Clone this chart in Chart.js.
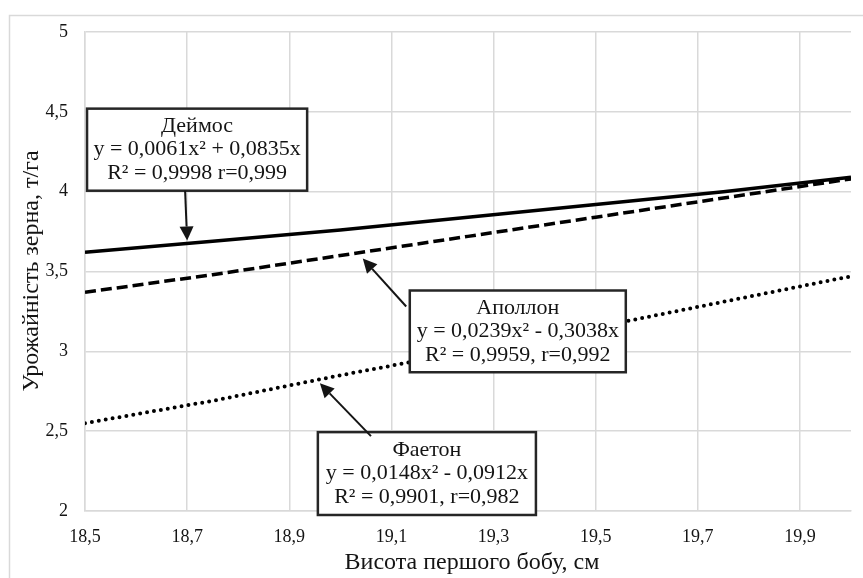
<!DOCTYPE html>
<html>
<head>
<meta charset="utf-8">
<script src="https://cdn.jsdelivr.net/npm/chart.js@4"></script>
<style>
  html, body { margin: 0; padding: 0; background: #fff; }
  #wrap { width: 863px; height: 578px; position: relative; }
</style>
</head>
<body>
<div id="wrap"><canvas id="chart" width="863" height="578"></canvas></div>
<script>
// values
const heights = [18.5, 18.75, 19.0, 19.25, 19.5, 19.75, 20.0];
const deimos  = [3.62, 3.69, 3.76, 3.84, 3.92, 4.00, 4.09];
const apollon = [3.37, 3.48, 3.60, 3.72, 3.84, 3.96, 4.08];
const faeton  = [2.55, 2.69, 2.85, 3.00, 3.15, 3.31, 3.47];
const xTicks = [18.5, 18.7, 18.9, 19.1, 19.3, 19.5, 19.7, 19.9];
const yTicks = [2, 2.5, 3, 3.5, 4, 4.5, 5];

const FONT = "'Liberation Serif', 'Times New Roman', serif";
const INK = '#141414';

// callout boxes, in data units
const callouts = [
    { lines: ['Деймос', 'y = 0,0061x² + 0,0835x', 'R² = 0,9998 r=0,999'],
      box: [18.504, 4.52, 18.935, 4.006], arrow: [18.696, 4.006, 18.700, 3.694] },
    { lines: ['Аполлон', 'y = 0,0239x² - 0,3038x', 'R² = 0,9959, r=0,992'],
      box: [19.136, 3.381, 19.559, 2.869], arrow: [19.129, 3.281, 19.044, 3.581] },
    { lines: ['Фаетон', 'y = 0,0148x² - 0,0912x', 'R² = 0,9901, r=0,982'],
      box: [18.956, 2.494, 19.383, 1.975], arrow: [19.060, 2.469, 18.960, 2.800] }
];

const fmt = v => String(Math.round(v * 10) / 10).replace('.', ',');
const pts = arr => arr.map((y, i) => ({ x: heights[i], y: y }));

const frame = {
    id: 'frame',
    beforeDraw(chart) {
        const ctx = chart.ctx;
        ctx.save();
        ctx.fillStyle = '#fff';
        ctx.fillRect(0, 0, chart.width, chart.height);
        ctx.strokeStyle = '#d9d9d9';
        ctx.lineWidth = 1.5;
        ctx.strokeRect(9.5, 15.5, 900, 600);
        ctx.restore();
    },
    afterDraw(chart) {
        const ctx = chart.ctx;
        const xs = chart.scales.x, ys = chart.scales.y;
        ctx.save();
        // axis titles
        ctx.fillStyle = INK;
        ctx.font = '24px ' + FONT;
        ctx.textAlign = 'center';
        ctx.textBaseline = 'middle';
        ctx.fillText('Висота першого бобу, см', 472, 563);
        ctx.translate(32, 271);
        ctx.rotate(-Math.PI / 2);
        ctx.fillText('Урожайність зерна, т/га', 0, 0);
        ctx.restore();

        callouts.forEach(c => {
            const x1 = xs.getPixelForValue(c.box[0]), y1 = ys.getPixelForValue(c.box[1]);
            const x2 = xs.getPixelForValue(c.box[2]), y2 = ys.getPixelForValue(c.box[3]);
            ctx.save();
            ctx.fillStyle = '#fff';
            ctx.fillRect(x1, y1, x2 - x1, y2 - y1);
            ctx.strokeStyle = '#262626';
            ctx.lineWidth = 2.5;
            ctx.strokeRect(x1, y1, x2 - x1, y2 - y1);
            ctx.fillStyle = INK;
            ctx.font = '22px ' + FONT;
            ctx.textAlign = 'center';
            ctx.textBaseline = 'middle';
            const cx = (x1 + x2) / 2, cy = (y1 + y2) / 2;
            c.lines.forEach((t, i) => ctx.fillText(t, cx, cy + (i - 1) * 23.5));

            // arrow
            const ax = xs.getPixelForValue(c.arrow[0]), ay = ys.getPixelForValue(c.arrow[1]);
            const bx = xs.getPixelForValue(c.arrow[2]), by = ys.getPixelForValue(c.arrow[3]);
            const ang = Math.atan2(by - ay, bx - ax);
            const hl = 14, hw = 7;
            const hx = bx - hl * Math.cos(ang), hy = by - hl * Math.sin(ang);
            ctx.strokeStyle = INK;
            ctx.lineWidth = 2;
            ctx.beginPath();
            ctx.moveTo(ax, ay);
            ctx.lineTo(hx, hy);
            ctx.stroke();
            ctx.fillStyle = INK;
            ctx.beginPath();
            ctx.moveTo(bx, by);
            ctx.lineTo(hx + hw * Math.sin(ang), hy - hw * Math.cos(ang));
            ctx.lineTo(hx - hw * Math.sin(ang), hy + hw * Math.cos(ang));
            ctx.closePath();
            ctx.fill();
            ctx.restore();
        });
    }
};

new Chart(document.getElementById('chart'), {
    type: 'line',
    data: {
        datasets: [{
            label: 'Деймос',
            data: pts(deimos),
            borderColor: '#000',
            borderWidth: 3.5,
        }, {
            label: 'Аполлон',
            data: pts(apollon),
            borderColor: '#000',
            borderWidth: 3.5,
            borderDash: [11, 5],
        }, {
            label: 'Фаетон',
            data: pts(faeton),
            borderColor: '#000',
            borderWidth: 4,
            borderDash: [0, 7],
            borderCapStyle: 'round',
        }]
    },
    options: {
        responsive: false,
        animation: false,
        devicePixelRatio: 1,
        layout: { padding: { top: 32, right: 12, left: 0, bottom: 0 } },
        elements: { point: { radius: 0 }, line: { tension: 0 } },
        plugins: { legend: { display: false }, tooltip: { enabled: false } },
        scales: {
            x: {
                type: 'linear',
                min: 18.5,
                max: 20,
                afterBuildTicks: s => { s.ticks = xTicks.map(v => ({ value: v })); },
                afterFit: s => { s.height = 67; },
                grid: { color: '#d9d9d9', lineWidth: 1.5, drawTicks: false },
                border: { color: '#d9d9d9', width: 1.5 },
                ticks: { padding: 15, color: INK, font: { family: FONT, size: 18 }, callback: v => fmt(v), maxRotation: 0 }
            },
            y: {
                min: 2,
                max: 5,
                afterBuildTicks: s => { s.ticks = yTicks.map(v => ({ value: v })); },
                afterFit: s => { s.width = 85; },
                grid: { color: '#d9d9d9', lineWidth: 1.5, drawTicks: false },
                border: { color: '#d9d9d9', width: 1.5 },
                ticks: { padding: 17, color: INK, font: { family: FONT, size: 18 }, callback: v => fmt(v) }
            }
        }
    },
    plugins: [frame]
});
</script>
</body>
</html>
